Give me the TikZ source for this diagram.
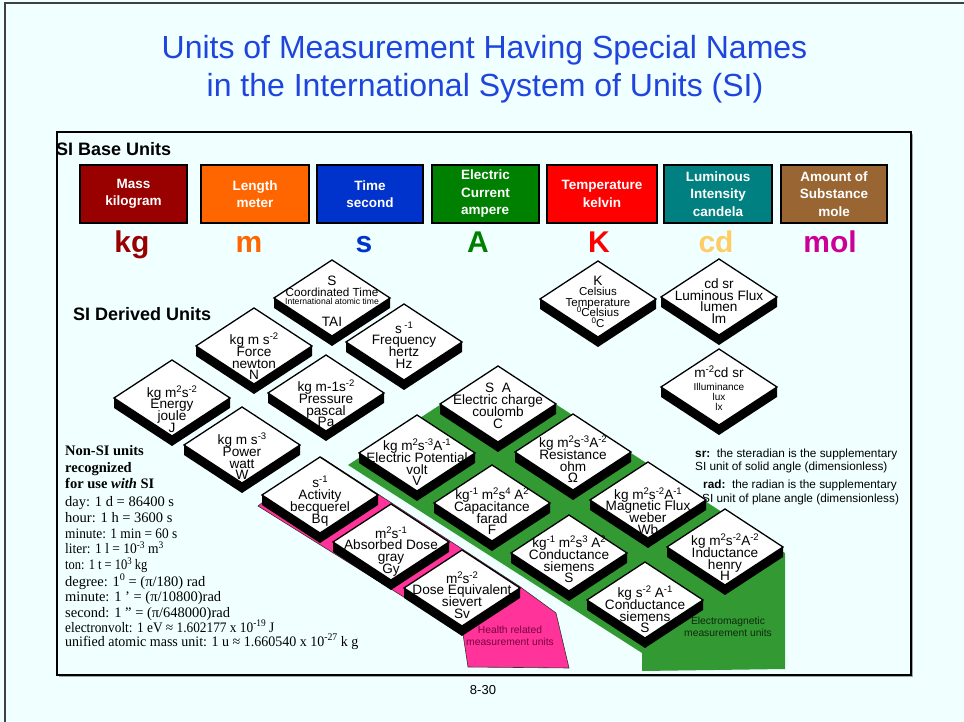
\documentclass[tikz,border=0pt]{standalone}
\usepackage{graphicx}
\usepackage{fontspec}
\setmainfont{Liberation Sans}
\newfontfamily\tnrfont{Liberation Serif}
\definecolor{bgc}{HTML}{F0FFFF}
\definecolor{titleblue}{HTML}{1F45DC}
\definecolor{cmass}{HTML}{990000}
\definecolor{clength}{HTML}{FF6600}
\definecolor{ctime}{HTML}{0033CC}
\definecolor{ccurrent}{HTML}{008000}
\definecolor{ctemp}{HTML}{FF0000}
\definecolor{clum}{HTML}{008080}
\definecolor{camount}{HTML}{996633}
\definecolor{ccd}{HTML}{FFCC66}
\definecolor{cmol}{HTML}{CC0099}
\definecolor{emgreen}{HTML}{339933}
\definecolor{hpink}{HTML}{FF3399}
\definecolor{emtext}{HTML}{0F2A0F}
\definecolor{hrtext}{HTML}{7A0040}
\newcommand\upsc[1]{\raisebox{0.36em}{\scalebox{0.7}{#1}}}
\newcommand\tightlines{\lineskiplimit-100pt\relax}
\newcommand\hsq[2]{\scalebox{#1}[1]{#2}}
\newcommand\sidia[2]{%
  \fill[black] (#1-58,#2) -- (#1,#2+38) -- (#1+58,#2) -- (#1+58,#2+10) -- (#1,#2+48) -- (#1-58,#2+10) -- cycle;
  \draw[line width=1.3, fill=white] (#1-58,#2) -- (#1,#2-38) -- (#1+58,#2) -- (#1,#2+38) -- cycle;}
\tikzset{
  basebox/.style={draw=black, line width=1.5, minimum height=58, text=white,
    font=\fontsize{13.5}{17.5}\selectfont\bfseries, align=center, inner sep=0},
  basesym/.style={font=\fontsize{30}{30}\selectfont\bfseries, anchor=base, inner sep=0},
  dtext/.style={font=\fontsize{13.6}{11.8}\selectfont\tightlines, align=center, inner sep=0},
  smalltext/.style={font=\fontsize{11.5}{10.5}\selectfont\tightlines, align=center, inner sep=0},
  heading/.style={font=\fontsize{18}{18}\selectfont\bfseries, anchor=base west, inner sep=0},
  titletext/.style={font=\fontsize{32}{32}\selectfont, text=titleblue, anchor=base, inner sep=0},
  nonsi/.style={font=\tnrfont\fontsize{14.5}{15}\selectfont, anchor=base west, inner sep=0},
  note/.style={font=\fontsize{11.8}{12}\selectfont, anchor=base west, inner sep=0},
  regionlbl/.style={font=\fontsize{10.3}{12.5}\selectfont\tightlines, align=center, inner sep=0}
}
\begin{document}
\begin{tikzpicture}[x=1pt,y=-1pt]
\useasboundingbox (0,0) rectangle (964,722);
\clip (0,0) rectangle (964,722);
\fill[bgc] (0,0) rectangle (964,722);
% outer frame
\draw[black!75, line width=1.2] (5,3) rectangle (1000,760);
% title
\node[titletext] (title1) at (484.5,59) {Units of Measurement Having Special Names};
\node[titletext] (title2) at (485,97) {in the International System of Units (SI)};
% panel
\draw[black!35, line width=1] (59,676.6) -- (912.6,676.6) -- (912.6,134);
\draw[line width=2] (57,132) rectangle (911,675);
\node[heading] (sibase) at (56,156) {SI Base Units};
% base units
\node[basebox, fill=cmass, minimum width=107] (bmass) at (133.5,194) {Mass\\kilogram};
\node[basebox, fill=clength, minimum width=108] (blength) at (255,194) {Length\\meter};
\node[basebox, fill=ctime, minimum width=106] (btime) at (370,194) {Time\\second};
\node[basebox, fill=ccurrent, minimum width=107, align=left] (bcurrent) at (485.5,194) {Electric\\Current\\ampere};
\node[basebox, fill=ctemp, minimum width=110] (btemp) at (602,194) {Temperature\\kelvin};
\node[basebox, fill=clum, minimum width=108] (blum) at (718,194) {Luminous\\Intensity\\candela};
\node[basebox, fill=camount, minimum width=106] (bamount) at (834,194) {Amount of\\Substance\\mole};
\node[basesym, text=cmass] (skg) at (132,252) {kg};
\node[basesym, text=clength] (sm) at (249,252) {m};
\node[basesym, text=ctime] (ss) at (364,252) {s};
\node[basesym, text=ccurrent] (sA) at (478,252) {A};
\node[basesym, text=ctemp] (sK) at (599,252) {K};
\node[basesym, text=ccd] (scd) at (716,252) {cd};
\node[basesym, text=cmol] (smol) at (830,252) {mol};
\node[heading] (siderived) at (73,320) {SI Derived Units};
% non-SI list
\node[nonsi] (ns1) at (65,455) {\textbf{Non-SI units}};
\node[nonsi] (ns2) at (65,472) {\textbf{recognized}};
\node[nonsi] (ns3) at (65,488) {\textbf{for use \textit{with} SI}};
\node[nonsi] (ns4) at (65,506) {day: 1 d = 86400 s};
\node[nonsi] (ns5) at (65,522) {hour: 1 h = 3600 s};
\node[nonsi] (ns6) at (65,538) {\hsq{0.92}{minute: 1 min = 60 s}};
\node[nonsi] (ns7) at (65,553.5) {\hsq{0.93}{liter: 1 l = 10\upsc{-3} m\upsc{3}}};
\node[nonsi] (ns8) at (65,569.5) {\hsq{0.86}{ton: 1 t = 10\upsc{3} kg}};
\node[nonsi] (ns9) at (65,586) {degree: 1\upsc{0} = (π/180) rad};
\node[nonsi] (ns10) at (65,601) {minute: 1 ’ = (π/10800)rad};
\node[nonsi] (ns11) at (65,617) {second: 1 ” = (π/648000)rad};
\node[nonsi] (ns12) at (65,632) {\hsq{0.92}{electronvolt: 1 eV ≈ 1.602177 x 10\upsc{-19} J}};
\node[nonsi] (ns13) at (65,646) {\hsq{0.965}{unified atomic mass unit: 1 u ≈ 1.660540 x 10\upsc{-27} k g}};
% notes
\node[note] (sr1) at (695,457) {\textbf{sr:}\ \ the steradian is the supplementary};
\node[note] (sr2) at (695,470) {SI unit of solid angle (dimensionless)};
\node[note] (rad1) at (703,488) {\textbf{rad:}\ \ the radian is the supplementary};
\node[note] (rad2) at (702,502) {SI unit of plane angle (dimensionless)};
% regions
\fill[emgreen] (348,465) -- (498,367) -- (557,405) -- (785,553) -- (785,669) -- (642,671) -- (642,653) -- cycle;
\filldraw[fill=hpink, draw=black!80, line width=0.6] (258,506) -- (321,457) -- (519,586) -- (556,613) -- (569,668) -- (468,667) -- (463,634) -- cycle;
\node[regionlbl, text=hrtext] (hrlbl) at (510,636) {Health related\\measurement units};
% diamonds
\sidia{332}{298}
\node[dtext, anchor=base] (taiS) at (332,285) {S};
\node[dtext, font=\fontsize{11.7}{12}\selectfont, anchor=base] (taiC) at (332,296) {Coordinated Time};
\node[dtext, font=\fontsize{8.6}{9}\selectfont, anchor=base] (taiI) at (332,304.5) {International atomic time};
\node[dtext, anchor=base] (taiT) at (332,326) {TAI};
\sidia{404}{342}
\node[dtext] (freq) at (404,345) {s\upsc{ -1}\\Frequency\\hertz\\Hz};
\sidia{254}{346}
\node[dtext] (force) at (254,356.5) {kg m s\upsc{-2}\\Force\\newton\\N};
\sidia{172}{398}
\node[dtext] (energy) at (172,409) {kg m\upsc{2}s\upsc{-2}\\Energy\\joule\\J};
\sidia{326}{393}
\node[dtext] (pressure) at (326,403.5) {kg m-1s\upsc{-2}\\Pressure\\pascal\\Pa};
\sidia{242}{445}
\node[dtext] (power) at (242,456.5) {kg m s\upsc{-3}\\Power\\watt\\W};
\sidia{598}{299}
\node[dtext, anchor=base] (celK) at (598,285.5) {K};
\node[smalltext] (celsius) at (598,307.5) {Celsius\\Temperature\\\upsc{0}Celsius\\\upsc{0}C};
\sidia{719}{297}
\node[dtext] (lumflux) at (719,301) {cd sr\\Luminous Flux\\lumen\\lm};
\sidia{719}{387}
\node[dtext, anchor=base] (illumA) at (719,377) {m\upsc{-2}cd sr};
\node[dtext, font=\fontsize{10}{10}\selectfont\tightlines] (illum) at (719,397) {Illuminance\\lux\\lx};
\sidia{498}{404}
\node[dtext] (charge) at (498,406) {S\ \ A\\Electric charge\\coulomb\\C};
\sidia{417}{453}
\node[dtext] (potential) at (417,462.5) {kg m\upsc{2}s\upsc{-3}A\upsc{-1}\\Electric Potential\\volt\\V};
\sidia{573}{452}
\node[dtext] (resistance) at (573,459.5) {kg m\upsc{2}s\upsc{-3}A\upsc{-2}\\Resistance\\ohm\\Ω};
\sidia{492}{503}
\node[dtext] (capacitance) at (492,511.5) {kg\upsc{-1} m\upsc{2}s\upsc{4} A\upsc{2}\\Capacitance\\farad\\F};
\sidia{648}{500}
\node[dtext] (magflux) at (648,511) {kg m\upsc{2}s\upsc{-2}A\upsc{-1}\\Magnetic Flux\\weber\\Wb};
\sidia{569}{553}
\node[dtext] (conductA) at (569,559.5) {kg\upsc{-1} m\upsc{2}s\upsc{3} A\upsc{2}\\Conductance\\siemens\\S};
\sidia{725}{547}
\node[dtext] (inductance) at (725,557.5) {kg m\upsc{2}s\upsc{-2}A\upsc{-2}\\Inductance\\henry\\H};
\sidia{645}{600}
\node[dtext] (conductB) at (645,609.5) {kg s\upsc{-2} A\upsc{-1}\\Conductance\\siemens\\S};
\sidia{320}{495}
\node[dtext] (activity) at (320,501) {s\upsc{-1}\\Activity\\becquerel\\Bq};
\sidia{391}{542}
\node[dtext] (absorbed) at (391,551.5) {m\upsc{2}s\upsc{-1}\\Absorbed Dose\\gray\\Gy};
\sidia{462}{588}
\node[dtext] (sievert) at (462,595) {m\upsc{2}s\upsc{-2}\\Dose Equivalent\\sievert\\Sv};
\node[regionlbl, text=emtext] (emlbl) at (728,627) {Electromagnetic\\measurement units};
% page number
\node[font=\fontsize{13}{13}\selectfont, inner sep=0] (pagenum) at (483,690) {8-30};
\end{tikzpicture}
\end{document}
